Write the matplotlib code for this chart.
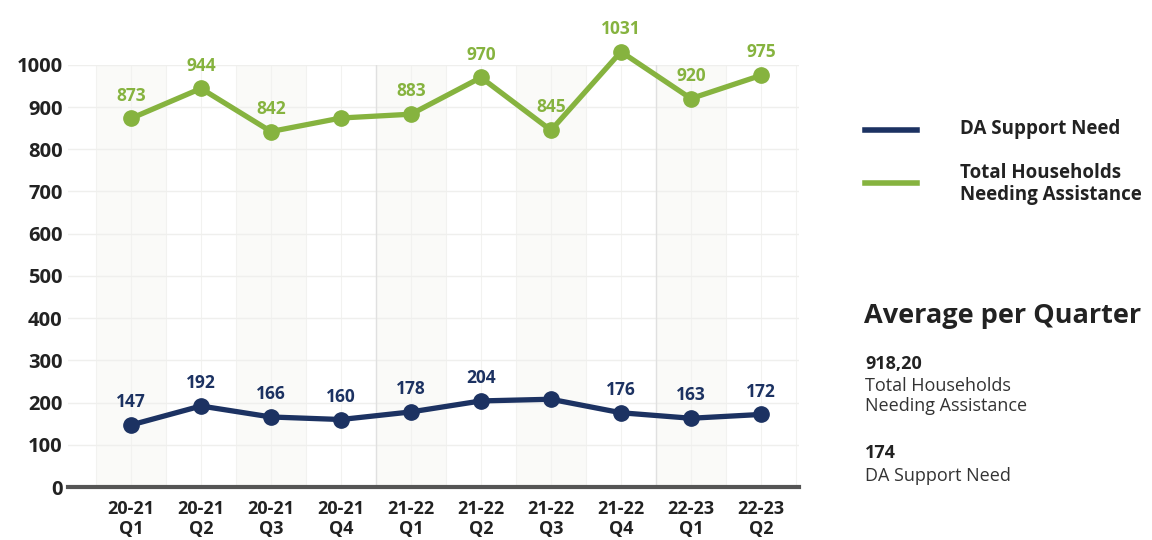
import matplotlib
matplotlib.use("Agg")
import matplotlib.pyplot as plt
import numpy as np

quarters = ["20-21\nQ1", "20-21\nQ2", "20-21\nQ3", "20-21\nQ4", "21-22\nQ1",
            "21-22\nQ2", "21-22\nQ3", "21-22\nQ4", "22-23\nQ1", "22-23\nQ2"]
total_households = [873, 944, 842, 874, 883, 970, 845, 1031, 920, 975]
da_support = [147, 192, 166, 160, 178, 204, 208, 176, 163, 172]
total_labelled = [True, True, True, False, True, True, True, True, True, True]
da_labelled = [True, True, True, True, True, True, False, True, True, True]
y_ticks = [0, 100, 200, 300, 400, 500, 600, 700, 800, 900, 1000]

avg_total_text = "918,20"
avg_da_text = "174"

GREEN = "#86b33f"
NAVY = "#1c3262"
DARK = "#222222"

plt.rcParams["font.family"] = ["Open Sans", "DejaVu Sans"]

fig = plt.figure(figsize=(11.52, 5.4), dpi=100)
ax = fig.add_axes([0.059, 0.098, 0.635, 0.782])

x = np.arange(len(quarters))
ax.set_xlim(-0.9, len(quarters) - 0.45)
ax.set_ylim(0, 1000)

# faint background bands and grid
for i in range(0, len(quarters), 2):
    ax.axvspan(i - 0.5, i + 0.5, color="#fafaf8", zorder=0, lw=0)
for v in np.arange(-0.5, len(quarters), 0.5):
    ax.axvline(v, color="#f2f2f0", lw=0.8, zorder=0.5)
for v in y_ticks[1:]:
    ax.axhline(v, color="#efefed", lw=1.0, zorder=0.5)
for v in (3.5, 7.5):
    ax.axvline(v, color="#e0e0e0", lw=1.0, zorder=0.6)

ax.plot(x, total_households, color=GREEN, lw=3.8, marker="o", ms=11,
        zorder=3, clip_on=False, solid_capstyle="round")
ax.plot(x, da_support, color=NAVY, lw=3.8, marker="o", ms=11,
        zorder=3, clip_on=False, solid_capstyle="round")

for xi, v, show in zip(x, total_households, total_labelled):
    if show:
        ax.annotate(str(v), (xi, v), xytext=(0, 10), textcoords="offset points",
                    ha="center", va="bottom", fontsize=12.5, fontweight="bold",
                    color=GREEN, annotation_clip=False)
for xi, v, show in zip(x, da_support, da_labelled):
    if show:
        ax.annotate(str(v), (xi, v), xytext=(0, 10), textcoords="offset points",
                    ha="center", va="bottom", fontsize=12.5, fontweight="bold",
                    color=NAVY, annotation_clip=False)

ax.set_xticks(x)
ax.set_xticklabels(quarters, fontsize=13, fontweight="bold", color=DARK,
                   linespacing=1.15)
ax.set_yticks(y_ticks)
ax.set_yticklabels([str(t) for t in y_ticks], fontsize=14.5, fontweight="bold",
                   color=DARK)
ax.tick_params(axis="both", length=0)
ax.tick_params(axis="x", pad=9)
ax.tick_params(axis="y", pad=4)
for side in ("top", "right", "left"):
    ax.spines[side].set_visible(False)
ax.spines["bottom"].set_color("#555555")
ax.spines["bottom"].set_linewidth(3)
ax.spines["bottom"].set_zorder(4)

# legend
fig.lines.append(plt.Line2D([865 / 1152, 917 / 1152], [1 - 130 / 540] * 2,
                            color=NAVY, lw=4, transform=fig.transFigure))
fig.lines.append(plt.Line2D([865 / 1152, 917 / 1152], [1 - 183 / 540] * 2,
                            color=GREEN, lw=4, transform=fig.transFigure))
fig.text(960 / 1152, 1 - 129 / 540, "DA Support Need", fontsize=13.5,
         fontweight="bold", color=DARK, va="center")
fig.text(960 / 1152, 1 - 184 / 540, "Total Households\nNeeding Assistance",
         fontsize=13.5, fontweight="bold", color=DARK, va="center",
         linespacing=1.15)

# averages panel
fig.text(864 / 1152, 1 - 316 / 540, "Average per Quarter", fontsize=19.5,
         fontweight="bold", color=DARK, va="center")
fig.text(865 / 1152, 1 - 364 / 540, avg_total_text, fontsize=13,
         fontweight="bold", color=DARK, va="center")
fig.text(865 / 1152, 1 - 396 / 540, "Total Households\nNeeding Assistance",
         fontsize=13, color="#333333", va="center", linespacing=1.2)
fig.text(865 / 1152, 1 - 453 / 540, avg_da_text, fontsize=13,
         fontweight="bold", color=DARK, va="center")
fig.text(865 / 1152, 1 - 476 / 540, "DA Support Need", fontsize=13,
         color="#333333", va="center")

fig.savefig("out.png", dpi=100, facecolor="white")
